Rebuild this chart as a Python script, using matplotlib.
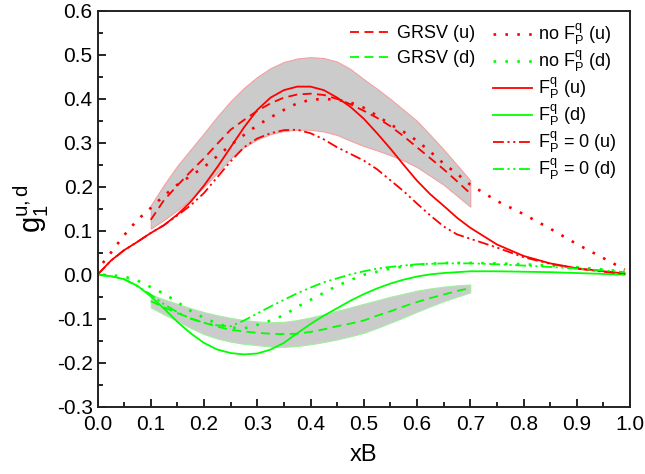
import matplotlib
matplotlib.use("Agg")
import matplotlib.pyplot as plt
from matplotlib.ticker import MultipleLocator, FormatStrFormatter

plt.rcParams['font.family'] = ['Liberation Sans', 'DejaVu Sans']
plt.rcParams['mathtext.fontset'] = 'custom'
plt.rcParams['mathtext.rm'] = 'Liberation Sans'
plt.rcParams['mathtext.it'] = 'Liberation Sans'

# ---- data ----
x_fine = [0.0, 0.025, 0.05, 0.075, 0.1, 0.125, 0.15, 0.175, 0.2, 0.225, 0.25, 0.275,
          0.3, 0.325, 0.35, 0.375, 0.4, 0.425, 0.45, 0.475, 0.5, 0.525, 0.55, 0.575,
          0.6, 0.625, 0.65, 0.675, 0.7, 0.75, 0.8, 0.85, 0.9, 0.95, 0.99]
x_nof = [0.01, 0.025, 0.05, 0.075, 0.1, 0.125, 0.15, 0.175, 0.2, 0.225, 0.25, 0.275,
         0.3, 0.325, 0.35, 0.375, 0.4, 0.425, 0.45, 0.475, 0.5, 0.525, 0.55, 0.575,
         0.6, 0.625, 0.65, 0.675, 0.7, 0.75, 0.8, 0.85, 0.9, 0.95, 0.99]
x_band = [0.1, 0.125, 0.15, 0.175, 0.2, 0.225, 0.25, 0.275, 0.3, 0.325, 0.35, 0.375,
          0.4, 0.425, 0.45, 0.475, 0.5, 0.525, 0.55, 0.575, 0.6, 0.625, 0.65, 0.675, 0.7]

# GRSV (u), (d) and their uncertainty bands
grsv_u = [0.125, 0.17, 0.203, 0.235, 0.265, 0.298, 0.33, 0.352, 0.373, 0.39, 0.403, 0.41,
          0.412, 0.409, 0.4, 0.388, 0.373, 0.357, 0.338, 0.315, 0.29, 0.265, 0.24, 0.213, 0.185]
grsv_d = [-0.06, -0.074, -0.087, -0.099, -0.109, -0.118, -0.125, -0.129, -0.132, -0.134, -0.135, -0.134,
          -0.13, -0.124, -0.117, -0.111, -0.104, -0.093, -0.083, -0.072, -0.062, -0.053, -0.045, -0.037, -0.03]
band_u_hi = [0.158, 0.205, 0.248, 0.285, 0.322, 0.36, 0.395, 0.425, 0.45, 0.47, 0.484, 0.492,
             0.495, 0.493, 0.485, 0.468, 0.445, 0.423, 0.40, 0.375, 0.35, 0.318, 0.285, 0.25, 0.215]
band_u_lo = [0.105, 0.125, 0.147, 0.172, 0.20, 0.232, 0.265, 0.29, 0.308, 0.32, 0.327, 0.33,
             0.33, 0.326, 0.318, 0.305, 0.293, 0.283, 0.272, 0.26, 0.245, 0.225, 0.205, 0.18, 0.155]
band_d_hi = [-0.045, -0.056, -0.066, -0.076, -0.085, -0.092, -0.098, -0.103, -0.106, -0.108, -0.107, -0.103,
             -0.097, -0.09, -0.082, -0.074, -0.066, -0.058, -0.05, -0.043, -0.036, -0.031, -0.027, -0.024, -0.022]
band_d_lo = [-0.074, -0.09, -0.105, -0.121, -0.135, -0.145, -0.152, -0.157, -0.16, -0.163, -0.164, -0.162,
             -0.158, -0.153, -0.147, -0.14, -0.132, -0.121, -0.109, -0.097, -0.084, -0.072, -0.06, -0.05, -0.04]

# no F^q_P (u), (d)
nof_u = [0.027, 0.05, 0.09, 0.125, 0.152, 0.18, 0.205, 0.225, 0.245, 0.27, 0.295, 0.318,
         0.34, 0.358, 0.375, 0.39, 0.398, 0.4, 0.398, 0.392, 0.38, 0.362, 0.342, 0.325,
         0.305, 0.28, 0.253, 0.23, 0.205, 0.168, 0.138, 0.105, 0.07, 0.038, 0.012]
nof_d = [0.0, -0.001, -0.004, -0.013, -0.028, -0.043, -0.062, -0.082, -0.098, -0.111, -0.12, -0.122,
         -0.114, -0.104, -0.092, -0.073, -0.057, -0.041, -0.025, -0.012, 0.0, 0.007, 0.014, 0.019,
         0.023, 0.025, 0.027, 0.027, 0.027, 0.026, 0.024, 0.021, 0.017, 0.012, 0.007]

# F^q_P (u), (d)
fp_u = [0.0, 0.032, 0.056, 0.075, 0.095, 0.113, 0.137, 0.166, 0.203, 0.245, 0.29, 0.335,
        0.375, 0.403, 0.42, 0.428, 0.428, 0.42, 0.403, 0.382, 0.355, 0.322, 0.287, 0.25,
        0.214, 0.183, 0.157, 0.13, 0.107, 0.069, 0.043, 0.026, 0.015, 0.008, 0.003]
fp_d = [0.0, -0.003, -0.01, -0.025, -0.049, -0.077, -0.107, -0.133, -0.155, -0.17, -0.178, -0.181,
        -0.179, -0.17, -0.155, -0.133, -0.112, -0.093, -0.076, -0.059, -0.044, -0.031, -0.02, -0.011,
        -0.004, 0.001, 0.004, 0.006, 0.008, 0.008, 0.007, 0.006, 0.004, 0.002, 0.0]

# F^q_P = 0 (u), (d)
f0_u = [0.0, 0.032, 0.056, 0.075, 0.095, 0.113, 0.135, 0.158, 0.186, 0.222, 0.258, 0.29,
        0.31, 0.322, 0.329, 0.33, 0.322, 0.308, 0.29, 0.275, 0.26, 0.24, 0.215, 0.19,
        0.162, 0.135, 0.11, 0.092, 0.082, 0.062, 0.04, 0.025, 0.014, 0.007, 0.002]
f0_d = [0.0, -0.003, -0.01, -0.026, -0.045, -0.067, -0.085, -0.1, -0.109, -0.115, -0.117, -0.104,
        -0.088, -0.072, -0.057, -0.042, -0.029, -0.017, -0.008, 0.001, 0.008, 0.014, 0.018, 0.021,
        0.024, 0.025, 0.026, 0.026, 0.026, 0.024, 0.021, 0.018, 0.014, 0.01, 0.006]

xticks = [0.0, 0.1, 0.2, 0.3, 0.4, 0.5, 0.6, 0.7, 0.8, 0.9, 1.0]
yticks = [-0.3, -0.2, -0.1, 0.0, 0.1, 0.2, 0.3, 0.4, 0.5, 0.6]

RED = '#ff0000'
GREEN = '#00ff00'
LW = 1.3
DASH = (0, (5, 3))
DOT = (0, (1, 3.5))
DDD = (0, (6, 2, 1.2, 2, 1.2, 2))

fig = plt.figure(figsize=(6.45, 4.74), dpi=100)
ax = fig.add_axes([97.5 / 645, 1 - 406.7 / 474, 532.5 / 645, 395.7 / 474])

ax.fill_between(x_band, band_u_lo, band_u_hi, facecolor='#cbcbcb', edgecolor='#f4a0a0', lw=0.8, zorder=1)
ax.fill_between(x_band, band_d_lo, band_d_hi, facecolor='#cbcbcb', edgecolor='#a0f0a0', lw=0.8, zorder=1)

h_gu, = ax.plot(x_band, grsv_u, color=RED, lw=LW, linestyle=DASH, label='GRSV (u)')
h_gd, = ax.plot(x_band, grsv_d, color=GREEN, lw=LW, linestyle=DASH, label='GRSV (d)')
h_nu, = ax.plot(x_nof, nof_u, color=RED, lw=LW + 0.6, linestyle=DOT, label=r'no $\mathregular{F^q_P}$ (u)')
h_nd, = ax.plot(x_nof, nof_d, color=GREEN, lw=LW + 0.6, linestyle=DOT, label=r'no $\mathregular{F^q_P}$ (d)')
h_fu, = ax.plot(x_fine, fp_u, color=RED, lw=LW, linestyle='-', label=r'$\mathregular{F^q_P}$ (u)')
h_fd, = ax.plot(x_fine, fp_d, color=GREEN, lw=LW, linestyle='-', label=r'$\mathregular{F^q_P}$ (d)')
h_zu, = ax.plot(x_fine, f0_u, color=RED, lw=LW, linestyle=DDD, label=r'$\mathregular{F^q_P}$ = 0 (u)')
h_zd, = ax.plot(x_fine, f0_d, color=GREEN, lw=LW, linestyle=DDD, label=r'$\mathregular{F^q_P}$ = 0 (d)')

ax.set_xlim(0, 1.0)
ax.set_ylim(-0.3, 0.6)
ax.set_xticks(xticks)
ax.set_yticks(yticks)
ax.xaxis.set_major_formatter(FormatStrFormatter('%.1f'))
ax.yaxis.set_major_formatter(FormatStrFormatter('%.1f'))
ax.xaxis.set_minor_locator(MultipleLocator(0.05))
ax.yaxis.set_minor_locator(MultipleLocator(0.05))
ax.tick_params(which='both', direction='in', top=False, right=False, width=1.2, labelsize=15)
ax.tick_params(axis='x', which='major', pad=6)
ax.tick_params(which='major', length=6)
ax.tick_params(which='minor', length=3.5)
for s in ax.spines.values():
    s.set_linewidth(1.4)
    s.set_color('#222222')

ax.set_xlabel('xB', fontsize=17, labelpad=7)
ax.set_ylabel(r'$\mathregular{g_1^{u,d}}$', fontsize=21, labelpad=4)

leg1 = ax.legend(handles=[h_gu, h_gd], loc='upper left', bbox_to_anchor=(0.475, 0.965),
                 frameon=False, fontsize=13, handlelength=2.2, handletextpad=0.4,
                 labelspacing=0.45, borderpad=0, borderaxespad=0)
ax.add_artist(leg1)
ax.legend(handles=[h_nu, h_nd, h_fu, h_fd, h_zu, h_zd], loc='upper left', bbox_to_anchor=(0.742, 0.972),
          frameon=False, fontsize=13, handlelength=2.2, handletextpad=0.3,
          labelspacing=0.1, borderpad=0, borderaxespad=0)

fig.savefig('out.png', dpi=100)
